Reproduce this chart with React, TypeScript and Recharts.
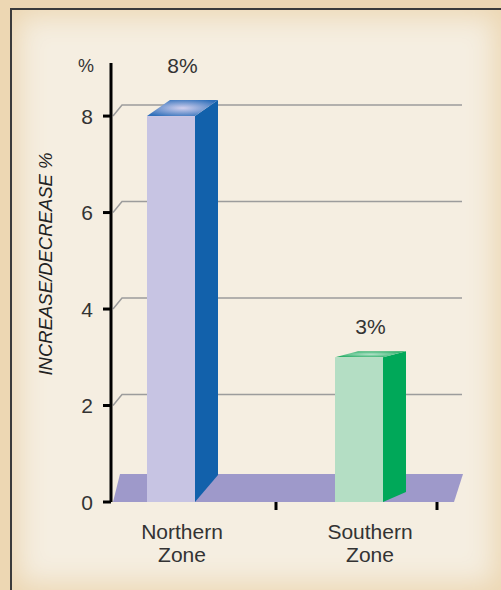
import React from 'react';
import {
  BarChart,
  Bar,
  XAxis,
  YAxis,
  CartesianGrid,
  LabelList,
  ReferenceArea,
} from 'recharts';

const zones = ['Northern Zone', 'Southern Zone'];
const changePct = [8, 3];
const yTicks = [0, 2, 4, 6, 8];
// zone boundaries on a 0..1 span across the floor
const dividerTicks = [0.5, 1];

const data = zones.map((zone, i) => ({ zone, value: changePct[i] }));

// per-bar look: colours + how far the back edge rises (perspective)
const barLook = [
  { front: '#c7c4e3', side: '#1261ab', top: 'topBlue', rise: 16, baseRise: 27 },
  { front: '#b4dec4', side: '#00a859', top: 'topGreen', rise: 6, baseRise: 10 },
];

const FONT = '"Liberation Sans", Arial, sans-serif';
const FRONT_W = 48;
const SIDE_W = 23;

const Bar3D = (props: any) => {
  const { x, y, height, index } = props;
  const look = barLook[index] || barLook[0];
  const bottom = y + height;
  const fx2 = x + FRONT_W;
  const bx2 = fx2 + SIDE_W;
  return (
    <g>
      <polygon
        points={`${fx2},${y} ${bx2},${y - look.rise} ${bx2},${bottom - look.baseRise} ${fx2},${bottom}`}
        fill={look.side}
      />
      <polygon
        points={`${x},${y} ${fx2},${y} ${bx2},${y - look.rise} ${x + SIDE_W},${y - look.rise}`}
        fill={`url(#${look.top})`}
      />
      <rect x={x} y={y} width={FRONT_W} height={height} fill={look.front} />
    </g>
  );
};

const ValueLabel = (props: any) => {
  const { x, y, value, index } = props;
  const look = barLook[index] || barLook[0];
  return (
    <text
      x={x + (FRONT_W + SIDE_W) / 2}
      y={y - look.rise * 2 - 19}
      textAnchor="middle"
      dominantBaseline="central"
      fontFamily={FONT}
      fontSize={21}
      fill="#333"
    >
      {value}%
    </text>
  );
};

const ZoneTick = (props: any) => {
  const { x, y, payload } = props;
  const words = String(payload.value).split(' ');
  return (
    <text x={x} y={y} textAnchor="middle" fontFamily={FONT} fontSize={21} fill="#333">
      {words.map((w, i) => (
        <tspan key={i} x={x} dy={i === 0 ? 28 : 23}>
          {w}
        </tspan>
      ))}
    </text>
  );
};

const ValueTick = (props: any) => {
  const { x, y, payload } = props;
  return (
    <text
      x={x}
      y={y}
      textAnchor="end"
      dominantBaseline="central"
      fontFamily={FONT}
      fontSize={21}
      fill="#333"
    >
      {payload.value}
    </text>
  );
};

const gridLine = (p: any) => {
  const top = p.y !== undefined ? p.y : -9999;
  const bottom = p.y !== undefined && p.height !== undefined ? p.y + p.height : 9999;
  if (p.y1 >= bottom - 1 || p.y1 <= top + 1) return <g key={p.key} />;
  const d = `M${p.x1 + 2},${p.y1} L${p.x1 + 11},${p.y1 - 11} L${p.x2},${p.y1 - 11}`;
  return <path key={p.key} d={d} stroke="#9c9c9c" strokeWidth={1.5} fill="none" />;
};

// floor is laid on the category axis range, which overhangs the plot
const floorShape = (p: any) => {
  const { x, y, width, height } = p;
  const pts = `${x + 25},${y + height} ${x + width - 10},${y + height} ${x + width - 1},${y} ${x + 32},${y}`;
  return <polygon points={pts} fill="#9e99ca" />;
};

const AxisTitle = (props: any) => {
  const vb = props.viewBox || { x: 36, y: 63 };
  return (
    <g>
      <text
        x={vb.x + 50}
        y={vb.y + 9}
        textAnchor="middle"
        fontFamily={FONT}
        fontSize={18}
        fill="#333"
      >
        %
      </text>
      <text
        x={vb.x + 9}
        y={264}
        transform={`rotate(-90, ${vb.x + 9}, 264)`}
        textAnchor="middle"
        dominantBaseline="central"
        fontFamily={FONT}
        fontStyle="italic"
        fontSize={18.5}
        fill="#222"
      >
        INCREASE/DECREASE %
      </text>
    </g>
  );
};

export default function App() {
  return (
    <div
      style={{
        position: 'fixed',
        left: 0,
        top: 0,
        width: 501,
        height: 590,
        background: '#edd7b3',
        overflow: 'hidden',
      }}
    >
      <div
        style={{
          position: 'absolute',
          left: 10,
          top: 8,
          right: 0,
          bottom: 0,
          borderLeft: '2px solid #3b3b3b',
          borderTop: '2px solid #3b3b3b',
          background: '#f5eee1',
          boxShadow: 'inset 0 0 28px 6px #ecd6b1',
        }}
      />
      <div style={{ position: 'absolute', left: 0, top: 0 }}>
        <BarChart
          width={501}
          height={590}
          data={data}
          margin={{ top: 63, right: 39, left: 36, bottom: 28 }}
        >
          <defs>
            <radialGradient id="topBlue" cx="0.5" cy="0.5" r="0.6">
              <stop offset="0%" stopColor="#d2d0ee" />
              <stop offset="100%" stopColor="#2f6fba" />
            </radialGradient>
            <radialGradient id="topGreen" cx="0.5" cy="0.5" r="0.6">
              <stop offset="0%" stopColor="#b3e2c8" />
              <stop offset="100%" stopColor="#1eaa60" />
            </radialGradient>
          </defs>
          <CartesianGrid vertical={false} horizontal={gridLine} />
          <XAxis
            xAxisId={0}
            type="number"
            domain={[0, 1]}
            allowDataOverflow
            ticks={dividerTicks}
            interval={0}
            padding={{ left: 4, right: 25 }}
            height={1}
            axisLine={false}
            tick={() => <g />}
            tickLine={{ stroke: '#000', strokeWidth: 3 }}
            tickSize={8}
          />
          <XAxis
            xAxisId="cat"
            dataKey="zone"
            height={59}
            padding={{ left: -23, right: -2 }}
            axisLine={false}
            tickLine={false}
            tick={<ZoneTick />}
            interval={0}
          />
          <YAxis
            width={75}
            domain={[0, 9.1]}
            ticks={yTicks}
            interval={0}
            axisLine={{ stroke: '#000', strokeWidth: 3 }}
            tickLine={{ stroke: '#000', strokeWidth: 3 }}
            tickSize={8}
            tickMargin={10}
            tick={<ValueTick />}
            label={<AxisTitle />}
          />
          <ReferenceArea xAxisId="cat" y1={0} y2={0.58} shape={floorShape} />
          <Bar
            xAxisId="cat"
            dataKey="value"
            barSize={FRONT_W + SIDE_W}
            shape={<Bar3D />}
            isAnimationActive={false}
          >
            <LabelList dataKey="value" content={<ValueLabel />} />
          </Bar>
        </BarChart>
      </div>
    </div>
  );
}
